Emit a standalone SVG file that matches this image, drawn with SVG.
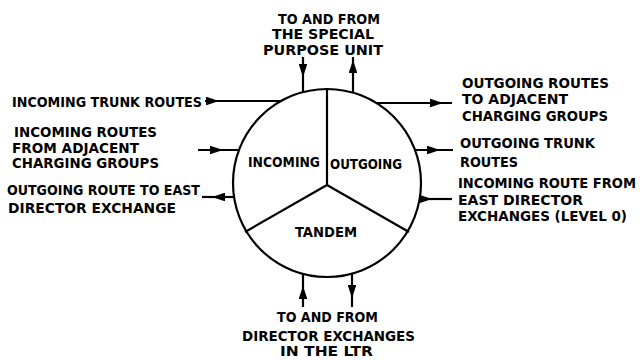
<svg xmlns="http://www.w3.org/2000/svg" width="640" height="360" viewBox="0 0 640 360">
<style>
text{font-family:"DejaVu Sans Condensed","DejaVu Sans","Liberation Sans",sans-serif;font-weight:bold;font-size:14.5px;fill:#000}
.ln{stroke:#000;stroke-width:2.2;fill:none}
.ar{stroke:#000;stroke-width:2.2;fill:none;marker-mid:url(#ah)}
</style>
<defs>
<marker id="ah" viewBox="0 0 12 8" refX="12" refY="4" markerWidth="6" markerHeight="4" orient="auto" markerUnits="strokeWidth">
<path d="M0,0 L12,4 L0,8 Z" fill="#000"/>
</marker>
</defs>
<rect width="640" height="360" fill="#fff"/>
<g id="exchange">
<circle class="ln" cx="327" cy="183" r="94"/>
<path class="ln" d="M327,185 L327,89 M327,185 L245,232 M327,185 L409,232"/>
<text x="248" y="167" textLength="72" lengthAdjust="spacingAndGlyphs">INCOMING</text>
<text x="330" y="169" textLength="72" lengthAdjust="spacingAndGlyphs">OUTGOING</text>
<text x="295" y="237" textLength="62" lengthAdjust="spacingAndGlyphs">TANDEM</text>
</g>
<g id="connectors">
<path class="ar" d="M205,101 L219,101 L281,101"/>
<path class="ar" d="M198,150 L223,150 L239,150"/>
<path class="ar" d="M234,197 L212,197 L202,197"/>
<path class="ar" d="M377,103 L443,103 L452,103"/>
<path class="ar" d="M415,150 L440,150 L453,150"/>
<path class="ar" d="M420,199 L432,199 L452,199"/>
<path class="ar" d="M303,57 L303,77 L303,92"/>
<path class="ar" d="M353,93 L353,60 L353,57"/>
<path class="ar" d="M303,307 L303,286 L303,274"/>
<path class="ar" d="M352,274 L352,298 L352,307"/>
</g>
<g id="label-special">
<text x="278" y="24" textLength="102" lengthAdjust="spacingAndGlyphs">TO AND FROM</text>
<text x="272" y="39" textLength="102" lengthAdjust="spacingAndGlyphs">THE SPECIAL</text>
<text x="263" y="55" textLength="120" lengthAdjust="spacingAndGlyphs">PURPOSE UNIT</text>
</g>
<g id="label-incoming-trunk">
<text x="12" y="107" textLength="190" lengthAdjust="spacingAndGlyphs">INCOMING TRUNK ROUTES</text>
</g>
<g id="label-incoming-adjacent">
<text x="14" y="137" textLength="143" lengthAdjust="spacingAndGlyphs">INCOMING ROUTES</text>
<text x="12" y="153" textLength="127" lengthAdjust="spacingAndGlyphs">FROM ADJACENT</text>
<text x="12" y="168" textLength="147" lengthAdjust="spacingAndGlyphs">CHARGING GROUPS</text>
</g>
<g id="label-outgoing-east">
<text x="7" y="195" textLength="193" lengthAdjust="spacingAndGlyphs">OUTGOING ROUTE TO EAST</text>
<text x="8" y="213" textLength="168" lengthAdjust="spacingAndGlyphs">DIRECTOR EXCHANGE</text>
</g>
<g id="label-outgoing-adjacent">
<text x="462" y="88" textLength="147" lengthAdjust="spacingAndGlyphs">OUTGOING ROUTES</text>
<text x="462" y="104" textLength="106" lengthAdjust="spacingAndGlyphs">TO ADJACENT</text>
<text x="462" y="121" textLength="146" lengthAdjust="spacingAndGlyphs">CHARGING GROUPS</text>
</g>
<g id="label-outgoing-trunk">
<text x="460" y="148" textLength="135" lengthAdjust="spacingAndGlyphs">OUTGOING TRUNK</text>
<text x="460" y="167" textLength="58" lengthAdjust="spacingAndGlyphs">ROUTES</text>
</g>
<g id="label-incoming-east">
<text x="458" y="188" textLength="178" lengthAdjust="spacingAndGlyphs">INCOMING ROUTE FROM</text>
<text x="458" y="205" textLength="125" lengthAdjust="spacingAndGlyphs">EAST DIRECTOR</text>
<text x="458" y="221" textLength="169" lengthAdjust="spacingAndGlyphs">EXCHANGES (LEVEL 0)</text>
</g>
<g id="label-director">
<text x="277" y="322" textLength="101" lengthAdjust="spacingAndGlyphs">TO AND FROM</text>
<text x="242" y="341" textLength="173" lengthAdjust="spacingAndGlyphs">DIRECTOR EXCHANGES</text>
<text x="280" y="356" textLength="93" lengthAdjust="spacingAndGlyphs">IN THE LTR</text>
</g>
</svg>
